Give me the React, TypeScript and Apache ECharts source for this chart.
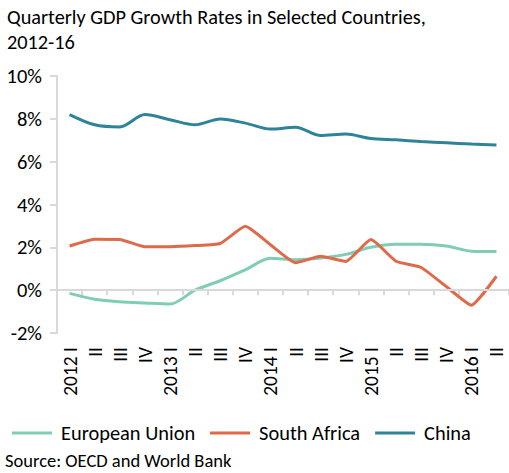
import React, { useEffect, useRef } from "react";
import * as echarts from "echarts";

const titleLines = ["Quarterly GDP Growth Rates in Selected Countries,", "2012-16"];
const sourceText = "Source: OECD and World Bank";

const categories = [
  "2012 I", "II", "III", "IV",
  "2013 I", "II", "III", "IV",
  "2014 I", "II", "III", "IV",
  "2015 I", "II", "III", "IV",
  "2016 I", "II",
];

const euValues = [-0.15, -0.42, -0.54, -0.6, -0.65, 0.0, 0.44, 0.95, 1.49, 1.42, 1.5, 1.67, 2.0, 2.14, 2.14, 2.06, 1.82, 1.8];
const saValues = [2.06, 2.38, 2.37, 2.03, 2.03, 2.08, 2.18, 2.98, 2.12, 1.28, 1.58, 1.34, 2.36, 1.35, 1.06, 0.17, -0.7, 0.65];
const chinaValues = [8.2, 7.72, 7.62, 8.2, 7.96, 7.72, 7.99, 7.8, 7.52, 7.61, 7.22, 7.29, 7.08, 7.02, 6.94, 6.88, 6.82, 6.78];

const seriesNames = ["European Union", "South Africa", "China"];
const colors = ["#7fcdb6", "#e0694a", "#2f8399"];

const FONT = "Carlito, Lato, 'Liberation Sans', sans-serif";

export default function App() {
  const ref = useRef<HTMLDivElement>(null);
  useEffect(() => {
    if (!ref.current) return;
    const chart = echarts.init(ref.current, undefined, { renderer: "svg" });
    const gray = "#d9d9d9";
    chart.setOption({
      animation: false,
      textStyle: { fontFamily: FONT },
      graphic: [
        {
          type: "text",
          left: 7,
          top: 4,
          style: {
            text: titleLines.join("\n"),
            fontFamily: FONT,
            fontSize: 20.3,
            lineHeight: 25,
            fill: "#000",
          },
        },
        {
          type: "text",
          left: 5,
          top: 451,
          style: { text: sourceText, fontFamily: FONT, fontSize: 18.5, fill: "#000" },
        },
      ],
      legend: {
        left: 7,
        top: 418,
        itemWidth: 40,
        itemHeight: 3,
        itemGap: 15,
        icon: "rect",
        textStyle: { fontFamily: FONT, fontSize: 20.4, color: "#000", padding: [0, 0, 0, 4] },
        data: seriesNames,
      },
      grid: { left: 57, right: -7, top: 76, bottom: 140, containLabel: false },
      xAxis: {
        type: "category",
        data: categories,
        boundaryGap: true,
        axisLine: { show: true, lineStyle: { color: gray, width: 2 } },
        axisTick: { show: true, interval: 0, length: 5, lineStyle: { color: gray, width: 2 } },
        axisLabel: {
          interval: 0,
          rotate: 90,
          margin: 14,
          fontFamily: FONT,
          fontSize: 19.5,
          color: "#000",
        },
        splitLine: { show: false },
      },
      yAxis: {
        type: "value",
        min: -2,
        max: 10,
        interval: 2,
        axisLine: { show: true, lineStyle: { color: gray, width: 2 } },
        axisTick: { show: true, length: 7, lineStyle: { color: gray, width: 2 } },
        axisLabel: {
          formatter: "{value}%",
          margin: 15,
          fontFamily: FONT,
          fontSize: 20.5,
          color: "#000",
        },
        splitLine: { show: false },
      },
      series: [
        {
          name: seriesNames[0],
          type: "line",
          data: euValues,
          smooth: 0.3,
          symbol: "none",
          lineStyle: { color: colors[0], width: 3 },
          itemStyle: { color: colors[0] },
          markLine: {
            silent: true,
            symbol: "none",
            label: { show: false },
            lineStyle: { color: gray, width: 2, type: "solid" },
            data: [{ yAxis: 0 }],
          },
          z: 2,
        },
        {
          name: seriesNames[1],
          type: "line",
          data: saValues,
          smooth: 0.15,
          symbol: "none",
          lineStyle: { color: colors[1], width: 3 },
          itemStyle: { color: colors[1] },
          z: 3,
        },
        {
          name: seriesNames[2],
          type: "line",
          data: chinaValues,
          smooth: 0.3,
          symbol: "none",
          lineStyle: { color: colors[2], width: 3 },
          itemStyle: { color: colors[2] },
          z: 4,
        },
      ],
    });
    return () => chart.dispose();
  }, []);
  return (
    <div style={{ position: "fixed", left: 0, top: 0, width: 509, height: 473, background: "#fff" }}>
      <div ref={ref} style={{ width: 509, height: 473 }} />
    </div>
  );
}
